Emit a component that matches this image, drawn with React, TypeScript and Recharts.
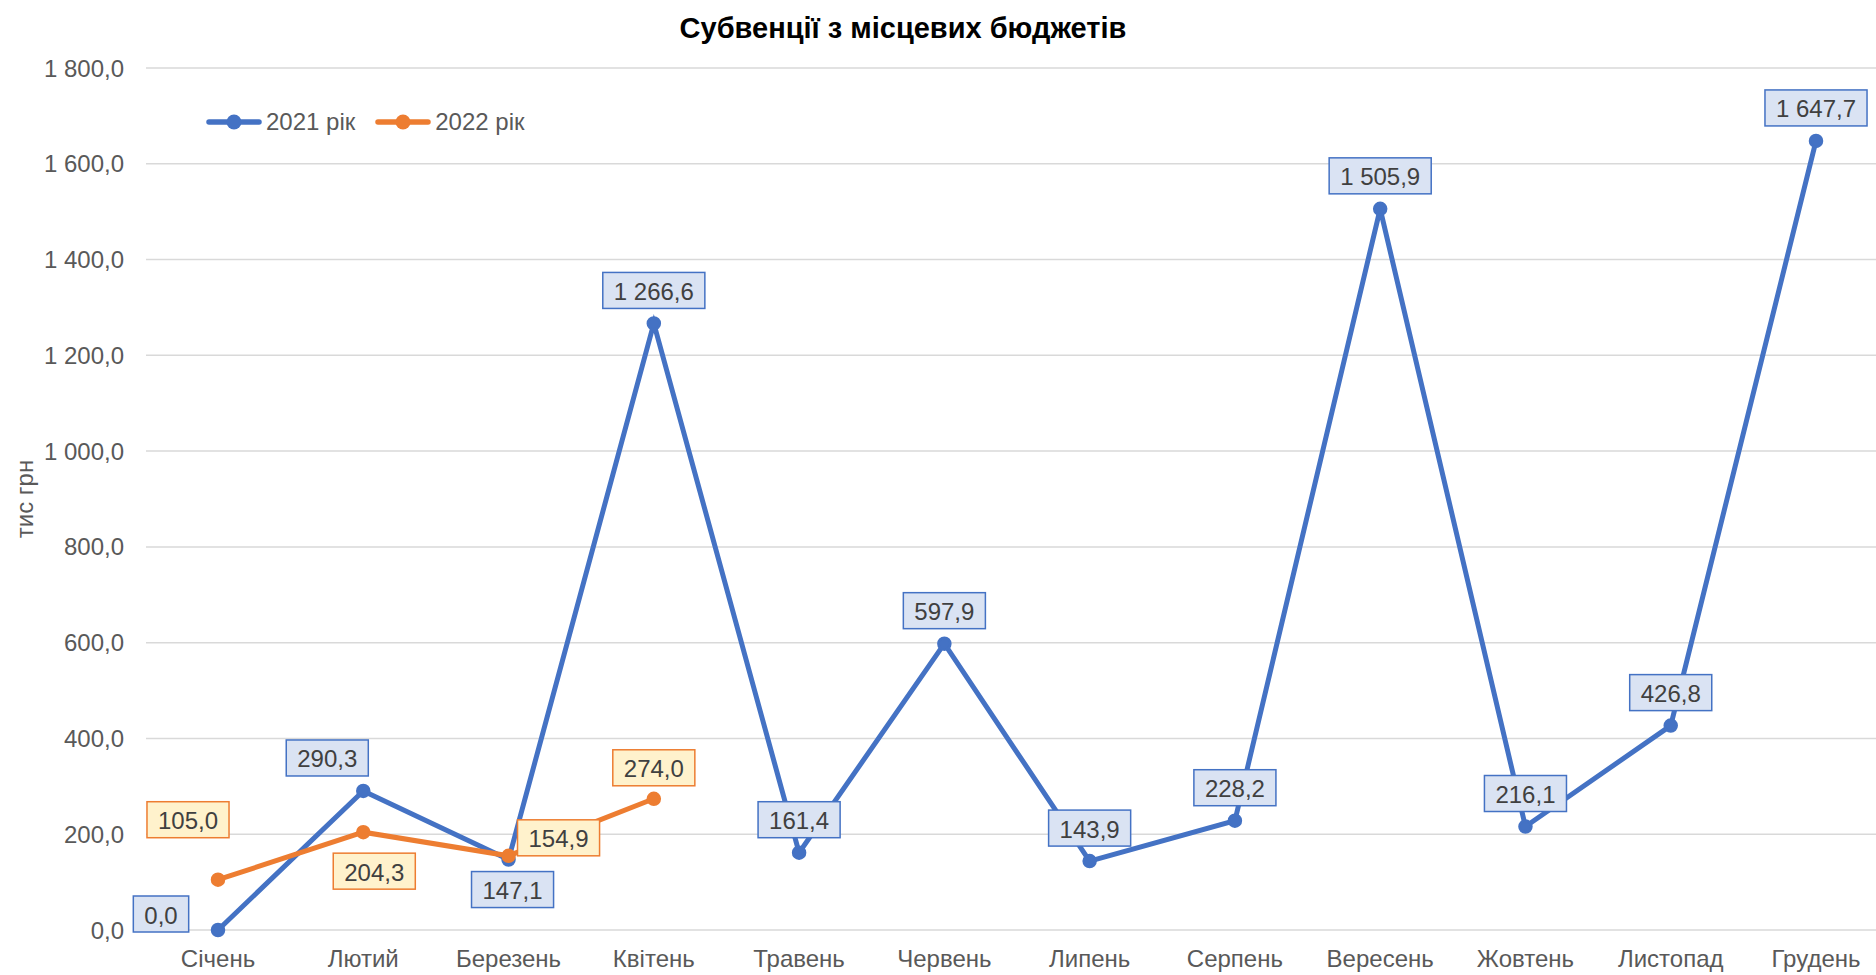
import React from 'react';
import { LineChart, Line, XAxis, YAxis, CartesianGrid, LabelList } from 'recharts';

const months = ['Січень', 'Лютий', 'Березень', 'Квітень', 'Травень', 'Червень', 'Липень', 'Серпень', 'Вересень', 'Жовтень', 'Листопад', 'Грудень'];
const values2021 = [0.0, 290.3, 147.1, 1266.6, 161.4, 597.9, 143.9, 228.2, 1505.9, 216.1, 426.8, 1647.7];
const values2022: (number | null)[] = [105.0, 204.3, 154.9, 274.0, null, null, null, null, null, null, null, null];
const yTicks = [0, 200, 400, 600, 800, 1000, 1200, 1400, 1600, 1800];
const series2021Name = '2021 рік';
const series2022Name = '2022 рік';
const titleText = 'Субвенції з місцевих бюджетів';
const yAxisTitle = 'тис грн';

// label box offsets (relative to the point) in px
const off2021dx = [-57, -36, 4, 0, 0, 0, 0, 0, 0, 0, 0, 0];
const off2021dy = [-16, -33, 30, -33, -33, -33, -33, -33, -33, -33, -33, -33];
const off2022dx = [-30, 11, 50, 0];
const off2022dy = [-60, 39, -18, -31];

const data = months.map((m, i) => ({ month: m, y2021: values2021[i], y2022: values2022[i] }));

const BLUE = '#4472C4';
const ORANGE = '#ED7D31';
const FONT = '"Liberation Sans", Arial, sans-serif';
const FS = 24;

function fmt(v: number): string {
  const s = Math.abs(v).toFixed(1);
  const [ip, dp] = s.split('.');
  const withSp = ip.replace(/\B(?=(\d{3})+(?!\d))/g, ' ');
  return (v < 0 ? '-' : '') + withSp + ',' + dp;
}

function textWidth(s: string): number {
  let w = 0;
  for (const ch of s) {
    if (ch >= '0' && ch <= '9') w += 0.556;
    else w += 0.278;
  }
  return w * FS;
}

function makeLabel(dxArr: number[], dyArr: number[], stroke: string, fill: string) {
  return (props: any) => {
    const { value, index } = props;
    if (value === null || value === undefined) return null;
    const x = props.x ?? props.viewBox?.x;
    const y = props.y ?? props.viewBox?.y;
    if (x == null || y == null) return null;
    const txt = fmt(Number(value));
    const w = textWidth(txt) + 22;
    const h = 36;
    const cx = x + (dxArr[index] ?? 0);
    const cy = y + (dyArr[index] ?? -33);
    return (
      <g>
        <rect x={cx - w / 2} y={cy - h / 2} width={w} height={h} fill={fill} stroke={stroke} strokeWidth={1.5} />
        <text x={cx} y={cy + 1} textAnchor="middle" dominantBaseline="central" fontSize={FS} fontFamily={FONT} fill="#404040">
          {txt}
        </text>
      </g>
    );
  };
}

function LegendItem({ color, label }: { color: string; label: string }) {
  return (
    <div style={{ display: 'flex', alignItems: 'center', marginRight: 20 }}>
      <svg width={56} height={18} style={{ marginRight: 4 }}>
        <line x1={3} y1={9} x2={53} y2={9} stroke={color} strokeWidth={5.5} strokeLinecap="round" />
        <circle cx={28} cy={9} r={7.5} fill={color} />
      </svg>
      <span style={{ fontSize: FS, color: '#595959', fontFamily: FONT }}>{label}</span>
    </div>
  );
}

export default function App() {
  return (
    <div style={{ position: 'absolute', left: 0, top: 0, width: 1876, height: 975, background: '#fff', overflow: 'hidden' }}>
      <div
        style={{
          position: 'absolute',
          left: 903 - 400,
          width: 800,
          top: 10,
          textAlign: 'center',
          fontFamily: FONT,
          fontWeight: 'bold',
          fontSize: 29,
          color: '#000',
          lineHeight: '36px',
        }}
      >
        {titleText}
      </div>
      <div style={{ position: 'absolute', left: 206, top: 108, display: 'flex', alignItems: 'center', zIndex: 2 }}>
        <LegendItem color={BLUE} label={series2021Name} />
        <LegendItem color={ORANGE} label={series2022Name} />
      </div>
      <LineChart width={1876} height={975} data={data} margin={{ top: 68, right: 0, bottom: 0, left: 0 }}>
        <CartesianGrid vertical={false} stroke="#D9D9D9" strokeWidth={1.5} />
        <XAxis
          dataKey="month"
          height={45}
          axisLine={false}
          tickLine={false}
          tickSize={0}
          tickMargin={20}
          padding={{ left: 72, right: 60 }}
          interval={0}
          tick={{ fontSize: FS, fill: '#595959', fontFamily: FONT }}
        />
        <YAxis
          width={146}
          domain={[0, 1800]}
          ticks={yTicks}
          axisLine={false}
          tickLine={false}
          tickSize={0}
          tickMargin={22}
          tickFormatter={(v: number) => fmt(v)}
          tick={{ fontSize: FS, fill: '#595959', fontFamily: FONT }}
          label={{
            value: yAxisTitle,
            content: () => (
              <text x={24} y={499} transform="rotate(-90 24 499)" textAnchor="middle" dominantBaseline="central" fontSize={FS} fill="#595959" fontFamily={FONT}>
                {yAxisTitle}
              </text>
            ),
          }}
        />
        <Line
          type="linear"
          dataKey="y2021"
          name={series2021Name}
          stroke={BLUE}
          strokeWidth={5}
          dot={{ r: 6, fill: BLUE, stroke: BLUE, strokeWidth: 2.5 }}
          isAnimationActive={false}
        >
          <LabelList dataKey="y2021" content={makeLabel(off2021dx, off2021dy, BLUE, '#DAE3F3')} />
        </Line>
        <Line
          type="linear"
          dataKey="y2022"
          name={series2022Name}
          stroke={ORANGE}
          strokeWidth={5}
          dot={{ r: 6, fill: ORANGE, stroke: ORANGE, strokeWidth: 2.5 }}
          isAnimationActive={false}
        >
          <LabelList dataKey="y2022" content={makeLabel(off2022dx, off2022dy, ORANGE, '#FFF2CC')} />
        </Line>
      </LineChart>
    </div>
  );
}
